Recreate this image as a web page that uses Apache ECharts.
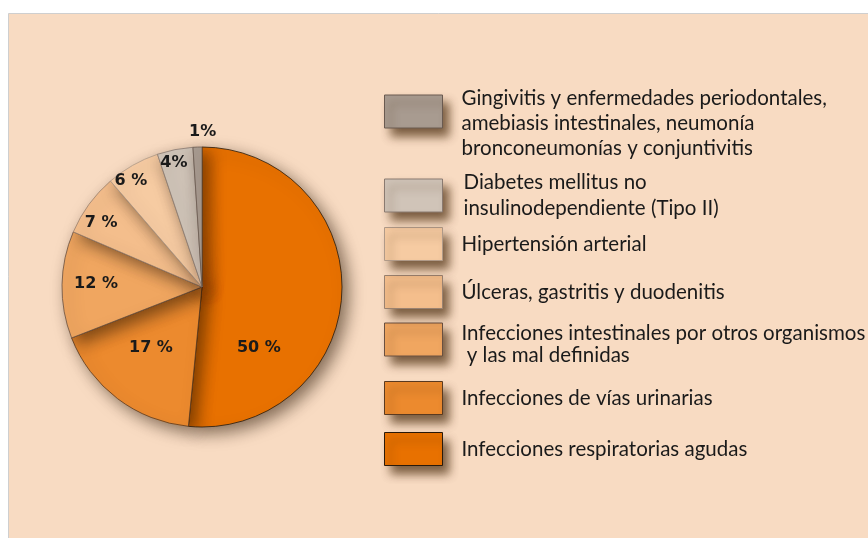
<!DOCTYPE html>
<html>
<head>
<meta charset="utf-8">
<script src="https://cdn.jsdelivr.net/npm/echarts@6/dist/echarts.min.js"></script>
<style>
  html, body { margin: 0; padding: 0; background: #fff; }
  #chart { width: 868px; height: 538px; }
</style>
</head>
<body>
<div id="chart"></div>
<script>
// porcentajes por causa (orden horario desde arriba)
const causes = [
  'Infecciones respiratorias agudas',
  'Infecciones de vías urinarias',
  'Infecciones intestinales por otros organismos\n y las mal definidas',
  'Úlceras, gastritis y duodenitis',
  'Hipertensión arterial',
  'Diabetes mellitus no\ninsulinodependiente (Tipo II)',
  'Gingivitis y enfermedades periodontales,\namebiasis intestinales, neumonía\nbronconeumonías y conjuntivitis'
];
const percents = [50, 17, 12, 7, 6, 4, 1];
const percentLabels = ['50 %', '17 %', '12 %', '7 %', '6 %', '4%', '1%'];

// estilos
const sliceColors = ['#E87100', '#EC8A2E', '#F0A660', '#F4BE8C', '#F6CBA2', '#D0C4B8', '#A89B90'];
const sliceBorders = ['#2a1a0a', '#5a3a20', '#6a5040', '#9a8270', '#b09a88', '#8a7a70', '#6a5a50'];
// desplazamiento de cada etiqueta respecto a su posición interior
const labelShift = [[-16, 57], [-7, 3], [-33, -2], [-42, -21], [-35, -43], [-14, -53], [3, -82]];
// posición de cada leyenda: caja, hueco superior del texto, interlineado, margen izquierdo
const legendBoxTops = [432, 381, 323, 275, 227, 179, 95];
const legendTextGap = [0, 0, 9, 0, 0, 0, 24];
const legendLineH = [26, 26, 22, 26, 26, 26, 25];
const legendTextLeft = [14, 14, 14, 14, 14, 16, 14];

const chart = echarts.init(document.getElementById('chart'));

const legends = causes.map((name, i) => {
  const lines = name.split('\n').length;
  const textH = lines * legendLineH[i] + legendTextGap[i];
  const itemH = Math.max(33, textH);
  return {
    data: [name],
    left: 384,
    top: legendBoxTops[i] + 16.5 - itemH / 2,
    padding: 0,
    orient: 'vertical',
    icon: 'rect',
    itemWidth: 58,
    itemHeight: 33,
    selectedMode: false,
    formatter: n => (legendTextGap[i] ? '{gap|}\n' : '') + n,
    itemStyle: {
      borderColor: sliceBorders[i],
      borderWidth: 1,
      shadowBlur: 9,
      shadowOffsetX: 6,
      shadowOffsetY: 8,
      shadowColor: 'rgba(70,40,10,0.7)'
    },
    textStyle: {
      fontFamily: 'Lato',
      fontSize: 20.5,
      lineHeight: legendLineH[i],
      color: '#1a1a1a',
      padding: [0, 0, 0, legendTextLeft[i]],
      rich: {
        gap: { fontSize: 1, lineHeight: legendTextGap[i], height: legendTextGap[i] }
      }
    }
  };
});

const option = {
  backgroundColor: '#fff',
  animation: false,
  graphic: [{
    type: 'rect',
    shape: { x: 8.5, y: 13.5, width: 870, height: 540 },
    style: { fill: '#F8DBC2', stroke: '#cfcfcf', lineWidth: 1 },
    z: -10
  }],
  legend: legends,
  series: [{
    type: 'pie',
    center: [202, 287],
    radius: [0, 140],
    startAngle: 90,
    clockwise: true,
    avoidLabelOverlap: false,
    itemStyle: {
      borderWidth: 0.8,
      shadowBlur: 16,
      shadowOffsetX: 6,
      shadowOffsetY: 6,
      shadowColor: 'rgba(40,20,0,0.55)'
    },
    label: {
      show: true,
      position: 'inside',
      fontFamily: 'DejaVu Sans',
      fontWeight: 'bold',
      fontSize: 16,
      color: '#1a1a1a',
      formatter: p => percentLabels[p.dataIndex]
    },
    labelLine: { show: false },
    labelLayout: p => ({ dx: labelShift[p.dataIndex][0], dy: labelShift[p.dataIndex][1] }),
    emphasis: { disabled: true },
    data: causes.map((name, i) => ({
      name: name,
      value: percents[i],
      itemStyle: { color: sliceColors[i], borderColor: sliceBorders[i] }
    }))
  }]
};

chart.setOption(option);
</script>
</body>
</html>
